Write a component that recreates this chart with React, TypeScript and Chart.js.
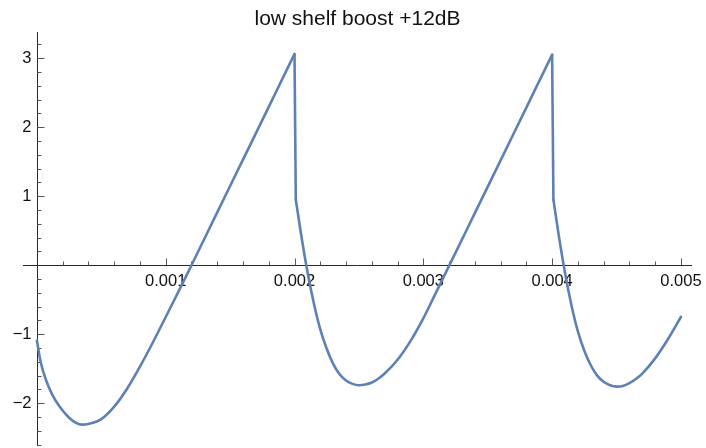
import React, { useEffect, useRef } from "react";
import { Chart, registerables } from "chart.js";

Chart.register(...registerables);

const TITLE = "low shelf boost +12dB";

const timeValues = [
  0, 0.00003, 0.00007, 0.00012, 0.00018, 0.00025, 0.0003, 0.00035, 0.0004, 0.0005,
  0.0006, 0.0007, 0.0008, 0.0009, 0.001, 0.0011, 0.0012, 0.0014, 0.0016, 0.0018, 0.00195, 0.002,
  0.00201, 0.00205, 0.0021, 0.00215, 0.0022, 0.00225, 0.0023, 0.00235, 0.0024, 0.00245,
  0.0025, 0.00255, 0.0026, 0.00265, 0.0027, 0.0028, 0.0029, 0.003, 0.0031, 0.0032,
  0.0034, 0.0036, 0.0038, 0.00395, 0.004,
  0.00401, 0.00405, 0.0041, 0.00415, 0.0042, 0.00425, 0.0043, 0.00435, 0.0044, 0.00445,
  0.0045, 0.00455, 0.0046, 0.00465, 0.0047, 0.0048, 0.0049, 0.005,
];

const signalValues = [
  -1.09, -1.41, -1.66, -1.88, -2.06, -2.21, -2.28, -2.31, -2.3, -2.23,
  -2.05, -1.79, -1.47, -1.12, -0.75, -0.38, 0.0, 0.765, 1.53, 2.295, 2.87, 3.06,
  0.95, 0.46, -0.09, -0.55, -0.93, -1.21, -1.43, -1.58, -1.67, -1.72,
  -1.74, -1.73, -1.7, -1.645, -1.57, -1.37, -1.1, -0.77, -0.39, -0.01,
  0.755, 1.52, 2.285, 2.86, 3.05,
  0.95, 0.45, -0.11, -0.58, -0.96, -1.24, -1.45, -1.6, -1.69, -1.74,
  -1.76, -1.75, -1.71, -1.65, -1.57, -1.35, -1.07, -0.75,
];

const xTickValues = [0.001, 0.002, 0.003, 0.004, 0.005];
const xTickLabels = ["0.001", "0.002", "0.003", "0.004", "0.005"];
const yTickValues = [-2, -1, 1, 2, 3];
const yTickLabels = ["\u22122", "\u22121", "1", "2", "3"];

const X_MIN = -0.000108;
const X_MAX = 0.005086;
const Y_MIN = -2.62;
const Y_MAX = 3.38;

const LINE_COLOR = "#5E81B5";
const LABEL_FONT = "16.5px 'Liberation Sans', Arial, sans-serif";

const axesPlugin = {
  id: "mathAxes",
  beforeDatasetsDraw(chart: any) {
    const { ctx, chartArea, scales } = chart;
    const xs = scales.x;
    const ys = scales.y;
    const ox = Math.round(xs.getPixelForValue(0)) + 0.5;
    const oy = Math.round(ys.getPixelForValue(0)) + 0.5;
    ctx.save();
    ctx.lineWidth = 1;
    ctx.strokeStyle = "#2a2a2a";
    ctx.beginPath();
    ctx.moveTo(chartArea.left, oy);
    ctx.lineTo(chartArea.right, oy);
    ctx.moveTo(ox, chartArea.top);
    ctx.lineTo(ox, chartArea.bottom);
    ctx.stroke();

    ctx.strokeStyle = "#555";
    ctx.beginPath();
    const xStep = 0.0002;
    for (let i = 1; i * xStep <= X_MAX + 1e-12; i++) {
      const px = Math.round(xs.getPixelForValue(i * xStep)) + 0.5;
      const len = i % 5 === 0 ? 7 : 4;
      ctx.moveTo(px, oy);
      ctx.lineTo(px, oy - len);
    }
    const yStep = 0.2;
    for (let i = Math.ceil(Y_MIN / yStep); i * yStep <= Y_MAX; i++) {
      if (i === 0) continue;
      const py = Math.round(ys.getPixelForValue(i * yStep)) + 0.5;
      const len = i % 5 === 0 ? 7 : 4;
      ctx.moveTo(ox, py);
      ctx.lineTo(ox + len, py);
    }
    ctx.stroke();

    ctx.fillStyle = "#111";
    ctx.font = LABEL_FONT;
    ctx.textAlign = "center";
    ctx.textBaseline = "middle";
    xTickValues.forEach((v, i) => {
      ctx.fillText(xTickLabels[i], xs.getPixelForValue(v), oy + 16);
    });
    ctx.textAlign = "right";
    yTickValues.forEach((v, i) => {
      ctx.fillText(yTickLabels[i], ox - 6, ys.getPixelForValue(v) + 0.5);
    });
    ctx.restore();
  },
};

export default function App() {
  const canvasRef = useRef<HTMLCanvasElement | null>(null);

  useEffect(() => {
    if (!canvasRef.current) return;
    // Smooth pieces are split at the sudden drops; the drops are drawn as straight lines.
    const smooth: any[] = [];
    const drops: any[] = [];
    timeValues.forEach((t, i) => {
      smooth.push({ x: t, y: signalValues[i] });
      if (i < timeValues.length - 1 && signalValues[i + 1] - signalValues[i] < -1.5) {
        const tn = timeValues[i + 1];
        smooth.push({ x: (t + tn) / 2, y: null });
        drops.push({ x: t, y: signalValues[i] });
        drops.push({ x: tn, y: signalValues[i + 1] });
        drops.push({ x: (t + tn) / 2 + 1e-9, y: null });
      }
    });
    const common = {
      borderColor: LINE_COLOR,
      borderWidth: 2.6,
      pointRadius: 0,
      fill: false,
      borderJoinStyle: "round",
      borderCapStyle: "round",
      spanGaps: false,
    };
    const chart = new Chart(canvasRef.current, {
      type: "line",
      data: {
        datasets: [
          { ...common, data: smooth, cubicInterpolationMode: "monotone" },
          { ...common, data: drops, tension: 0 },
        ] as any,
      },
      options: {
        animation: false,
        responsive: false,
        devicePixelRatio: 1,
        layout: { padding: { left: 23, right: 14, top: 0, bottom: 2 } },
        scales: {
          x: { type: "linear", min: X_MIN, max: X_MAX, display: false },
          y: { type: "linear", min: Y_MIN, max: Y_MAX, display: false },
        },
        plugins: {
          legend: { display: false },
          tooltip: { enabled: false },
          title: {
            display: true,
            text: TITLE,
            color: "#111",
            font: { family: "'Liberation Sans', Arial, sans-serif", size: 21, weight: "normal", lineHeight: 1.1 },
            padding: { top: 8.15, bottom: 0.75 },
          },
        },
      } as any,
      plugins: [axesPlugin],
    });
    return () => chart.destroy();
  }, []);

  return (
    <div style={{ position: "absolute", left: 0, top: 0, width: 706, height: 448, background: "#fff" }}>
      <canvas ref={canvasRef} width={706} height={448} style={{ width: 706, height: 448, display: "block" }} />
    </div>
  );
}
